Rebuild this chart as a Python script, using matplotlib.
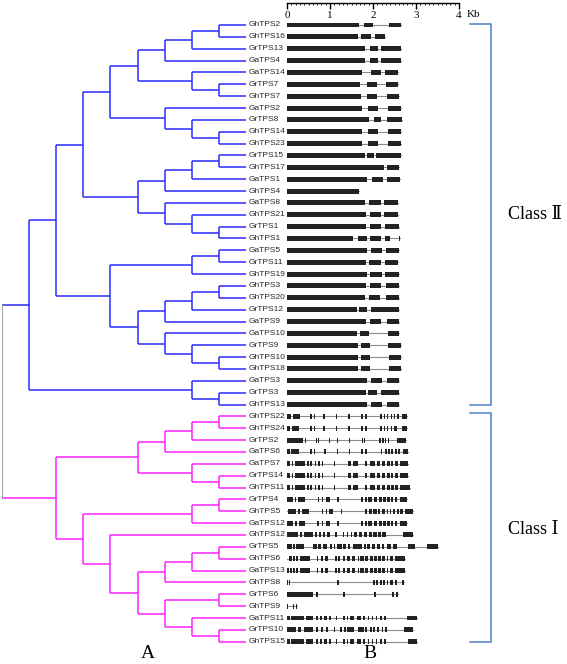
import matplotlib
matplotlib.use("Agg")
import matplotlib.pyplot as plt

# gene names, top to bottom
names = ["GhTPS2", "GhTPS16", "GrTPS13", "GaTPS4", "GaTPS14", "GrTPS7", "GhTPS7",
         "GaTPS2", "GrTPS8", "GhTPS14", "GhTPS23", "GrTPS15", "GhTPS17", "GaTPS1",
         "GhTPS4", "GaTPS8", "GhTPS21", "GrTPS1", "GhTPS1", "GaTPS5", "GrTPS11",
         "GhTPS19", "GhTPS3", "GhTPS20", "GrTPS12", "GaTPS9", "GaTPS10", "GrTPS9",
         "GhTPS10", "GhTPS18", "GaTPS3", "GrTPS3", "GhTPS13",
         "GhTPS22", "GhTPS24", "GrTPS2", "GaTPS6", "GaTPS7", "GrTPS14", "GhTPS11",
         "GrTPS4", "GhTPS5", "GaTPS12", "GhTPS12", "GrTPS5", "GhTPS6", "GaTPS13",
         "GhTPS8", "GrTPS6", "GhTPS9", "GaTPS11", "GrTPS10", "GhTPS15"]

# exons (start, end) in kb
exons = [
    [(0, 1.68), (1.78, 2.01), (2.38, 2.64)],
    [(0, 1.66), (1.72, 1.95), (2.05, 2.29)],
    [(0, 1.81), (1.93, 2.12), (2.19, 2.64)],
    [(0, 1.81), (1.94, 2.12), (2.19, 2.64)],
    [(0, 1.75), (1.95, 2.18), (2.29, 2.59)],
    [(0, 1.70), (1.85, 2.09), (2.30, 2.59)],
    [(0, 1.71), (1.85, 2.10), (2.32, 2.60)],
    [(0, 1.74), (1.89, 2.12), (2.36, 2.64)],
    [(0, 1.90), (2.02, 2.19), (2.33, 2.67)],
    [(0, 1.74), (1.89, 2.12), (2.35, 2.64)],
    [(0, 1.74), (1.89, 2.12), (2.35, 2.65)],
    [(0, 1.81), (1.87, 2.02), (2.07, 2.65)],
    [(0, 2.26), (2.33, 2.60)],
    [(0, 1.87), (1.97, 2.24), (2.32, 2.63)],
    [(0, 1.68)],
    [(0, 1.81), (1.91, 2.18), (2.26, 2.58)],
    [(0, 1.83), (1.93, 2.18), (2.26, 2.59)],
    [(0, 1.83), (1.93, 2.19), (2.28, 2.60)],
    [(0, 1.54), (1.64, 1.85), (1.93, 2.18), (2.28, 2.40), (2.60, 2.63)],
    [(0, 1.87), (1.95, 2.20), (2.30, 2.60)],
    [(0, 1.84), (1.91, 2.18), (2.28, 2.57)],
    [(0, 1.86), (1.94, 2.20), (2.29, 2.60)],
    [(0, 1.83), (1.93, 2.18), (2.30, 2.60)],
    [(0, 1.81), (1.91, 2.17), (2.30, 2.60)],
    [(0, 1.62), (1.67, 1.85), (1.95, 2.61)],
    [(0, 1.84), (1.94, 2.19), (2.32, 2.61)],
    [(0, 1.63), (1.70, 1.91), (2.34, 2.61)],
    [(0, 1.64), (1.71, 1.94), (2.36, 2.64)],
    [(0, 1.64), (1.71, 1.94), (2.37, 2.64)],
    [(0, 1.64), (1.71, 1.94), (2.37, 2.64)],
    [(0, 1.87), (1.95, 2.22), (2.32, 2.60)],
    [(0, 1.83), (1.88, 2.09), (2.18, 2.60)],
    [(0, 1.87), (1.95, 2.22), (2.32, 2.60)],
    # class I
    [(0, 0.09), (0.13, 0.30), (0.53, 0.57), (0.63, 0.66), (0.84, 0.88), (1.14, 1.17), (1.43, 1.47),
     (1.72, 1.76), (1.81, 1.85), (2.16, 2.20), (2.26, 2.29), (2.33, 2.36), (2.41, 2.44), (2.49, 2.52),
     (2.55, 2.60), (2.67, 2.78)],
    [(0, 0.08), (0.11, 0.29), (0.53, 0.57), (0.63, 0.66), (0.84, 0.88), (1.14, 1.17), (1.43, 1.47),
     (1.72, 1.76), (1.81, 1.85), (2.16, 2.20), (2.26, 2.29), (2.33, 2.36), (2.41, 2.44), (2.49, 2.55),
     (2.67, 2.78)],
    [(0, 0.38), (0.42, 0.45), (0.67, 0.70), (0.73, 0.75), (0.97, 1.00), (1.17, 1.19), (1.44, 1.47),
     (1.74, 1.76), (1.80, 1.82), (2.15, 2.18), (2.22, 2.25), (2.28, 2.31), (2.34, 2.38), (2.55, 2.77)],
    [(0, 0.07), (0.10, 0.29), (0.53, 0.57), (0.63, 0.66), (0.87, 0.91), (1.16, 1.18), (1.45, 1.47),
     (1.72, 1.76), (1.81, 1.85), (2.19, 2.22), (2.28, 2.32), (2.36, 2.40), (2.43, 2.47), (2.51, 2.55),
     (2.59, 2.63), (2.69, 2.82)],
    [(0, 0.07), (0.11, 0.15), (0.19, 0.42), (0.46, 0.50), (0.53, 0.59), (0.64, 0.67), (0.73, 0.77),
     (0.81, 0.84), (1.09, 1.12), (1.43, 1.48), (1.54, 1.64), (1.81, 1.85), (1.93, 2.05), (2.09, 2.16),
     (2.20, 2.28), (2.32, 2.40), (2.43, 2.47), (2.51, 2.57), (2.63, 2.82)],
    [(0, 0.07), (0.11, 0.15), (0.19, 0.42), (0.46, 0.50), (0.53, 0.59), (0.64, 0.67), (0.73, 0.77),
     (0.81, 0.84), (1.09, 1.12), (1.43, 1.48), (1.54, 1.64), (1.81, 1.85), (1.93, 2.05), (2.09, 2.16),
     (2.20, 2.28), (2.32, 2.40), (2.43, 2.47), (2.51, 2.57), (2.63, 2.82)],
    [(0, 0.07), (0.11, 0.15), (0.19, 0.42), (0.46, 0.50), (0.53, 0.59), (0.64, 0.67), (0.73, 0.77),
     (0.81, 0.84), (1.09, 1.12), (1.43, 1.48), (1.54, 1.64), (1.81, 1.85), (1.93, 2.05), (2.09, 2.16),
     (2.20, 2.28), (2.32, 2.40), (2.43, 2.49), (2.51, 2.57), (2.63, 2.85)],
    [(0, 0.15), (0.19, 0.22), (0.26, 0.42), (0.71, 0.75), (0.81, 0.84), (0.90, 1.00), (1.17, 1.21),
     (1.72, 1.76), (1.81, 1.85), (1.89, 1.97), (2.02, 2.09), (2.13, 2.20), (2.24, 2.30), (2.33, 2.40),
     (2.43, 2.47), (2.51, 2.55), (2.63, 2.78)],
    [(0, 0.01), (0.03, 0.22), (0.26, 0.30), (0.34, 0.52), (0.81, 0.84), (0.90, 0.94), (0.98, 1.08),
     (1.26, 1.29), (1.81, 1.87), (1.91, 1.97), (2.01, 2.09), (2.12, 2.16), (2.20, 2.28), (2.32, 2.36),
     (2.40, 2.43), (2.47, 2.52), (2.55, 2.60), (2.63, 2.69), (2.74, 2.94)],
    [(0, 0.15), (0.19, 0.24), (0.28, 0.42), (0.69, 0.75), (0.81, 0.84), (0.90, 1.00), (1.17, 1.21),
     (1.72, 1.76), (1.81, 1.85), (1.89, 1.97), (2.02, 2.09), (2.13, 2.20), (2.24, 2.30), (2.33, 2.40),
     (2.43, 2.47), (2.51, 2.55), (2.63, 2.78)],
    [(0, 0.02), (0.03, 0.26), (0.30, 0.34), (0.40, 0.61), (0.65, 0.69), (0.75, 0.78), (0.83, 0.88),
     (0.94, 1.00), (1.12, 1.16), (1.31, 1.33), (1.39, 1.43), (1.48, 1.52), (1.56, 1.62), (1.67, 1.74),
     (1.78, 1.87), (1.91, 1.97), (2.01, 2.09), (2.12, 2.18), (2.22, 2.30), (2.69, 2.92)],
    [(0, 0.11), (0.13, 0.19), (0.21, 0.40), (0.61, 0.69), (0.73, 0.78), (0.83, 0.92), (1.00, 1.04),
     (1.09, 1.12), (1.17, 1.28), (1.31, 1.37), (1.43, 1.47), (1.53, 1.74), (1.78, 1.84), (1.87, 1.93),
     (1.97, 2.05), (2.09, 2.16), (2.20, 2.26), (2.32, 2.43), (2.47, 2.55), (2.82, 2.98), (3.25, 3.50)],
    [(0, 0.01), (0.05, 0.11), (0.15, 0.19), (0.22, 0.26), (0.30, 0.53), (0.69, 0.73), (0.78, 0.83),
     (0.88, 0.96), (1.12, 1.16), (1.19, 1.23), (1.31, 1.35), (1.39, 1.47), (1.50, 1.58), (1.64, 1.67),
     (1.70, 1.78), (1.81, 1.89), (1.93, 1.99), (2.02, 2.09), (2.12, 2.19), (2.22, 2.28), (2.32, 2.36),
     (2.40, 2.47), (2.51, 2.74)],
    [(0, 0.04), (0.07, 0.11), (0.15, 0.19), (0.22, 0.26), (0.30, 0.53), (0.69, 0.73), (0.78, 0.83),
     (0.88, 0.96), (1.12, 1.16), (1.19, 1.23), (1.31, 1.35), (1.39, 1.47), (1.50, 1.58), (1.64, 1.67),
     (1.70, 1.78), (1.81, 1.89), (1.93, 1.99), (2.02, 2.09), (2.12, 2.19), (2.22, 2.28), (2.32, 2.36),
     (2.40, 2.47), (2.51, 2.74)],
    [(0, 0.02), (0.04, 0.06), (1.17, 1.22), (2.01, 2.05), (2.08, 2.11), (2.16, 2.20), (2.24, 2.28),
     (2.32, 2.36), (2.40, 2.47), (2.51, 2.55), (2.67, 2.72)],
    [(0, 0.60), (0.67, 0.71), (1.31, 1.36), (2.02, 2.07), (2.44, 2.49), (2.53, 2.57)],
    [(0, 0.02), (0.15, 0.17), (0.21, 0.23)],
    [(0, 0.07), (0.09, 0.40), (0.44, 0.61), (0.67, 0.71), (0.77, 0.81), (0.87, 0.92), (0.97, 1.02),
     (1.14, 1.17), (1.31, 1.35), (1.39, 1.43), (1.47, 1.56), (1.62, 1.71), (1.76, 1.81), (1.88, 1.91),
     (1.97, 2.01), (2.06, 2.10), (2.16, 2.20), (2.26, 2.30), (2.78, 3.02)],
    [(0.01, 0.22), (0.26, 0.33), (0.40, 0.61), (0.67, 0.73), (0.78, 0.84), (0.91, 0.96), (1.09, 1.12),
     (1.23, 1.27), (1.33, 1.37), (1.40, 1.56), (1.66, 1.78), (1.81, 1.87), (1.93, 1.97), (2.01, 2.05),
     (2.10, 2.15), (2.20, 2.24), (2.28, 2.33), (2.72, 2.94)],
    [(0, 0.07), (0.09, 0.40), (0.44, 0.61), (0.67, 0.71), (0.77, 0.81), (0.87, 0.92), (0.97, 1.02),
     (1.14, 1.17), (1.31, 1.35), (1.39, 1.43), (1.47, 1.56), (1.62, 1.71), (1.76, 1.81), (1.88, 1.91),
     (1.97, 2.01), (2.06, 2.10), (2.16, 2.20), (2.26, 2.30), (2.81, 3.03)],
]

# cladogram: (level, [children]); ints are leaf rows
A = (5, [(6, [(7, [(8, [0, 1]), 2]), 3]), (7, [4, (8, [5, 6])])])
B = (6, [7, (7, [8, (8, [9, 10])])])
C = (5, [(6, [(7, [(8, [11, 12]), 13]), 14]), (6, [15, (7, [16, (8, [17, 18])])])])
D = (4, [(7, [(8, [19, 20]), 21]),
         (5, [(6, [(7, [(8, [22, 23]), 24]), 25]), (6, [26, (7, [27, (8, [28, 29])])])])])
E = (7, [30, (8, [31, 32])])
class2_tree = (1, [(2, [(3, [(4, [A, B]), C]), D]), E])

I1 = (5, [(6, [(7, [(8, [33, 34]), 35]), 36]), (7, [37, (8, [38, 39])])])
I2 = (3, [(7, [(8, [40, 41]), 42]),
          (4, [43, (5, [(6, [(7, [(8, [44, 45]), 46]), 47]),
                        (6, [(8, [48, 49]), (7, [50, (8, [51, 52])])])])])])
class1_tree = (2, [I1, I2])

class_labels = ["Class \u2161", "Class \u2160"]
class_rows = [(0, 32), (33, 52)]
scale_ticks = [0, 1, 2, 3, 4]

blue = "#2b2bff"
magenta = "#ff22ff"
bracket = "#4a7fc0"
LEAF = 9

W, H = 567, 664
fig = plt.figure(figsize=(W / 100, H / 100), dpi=100)

# vertical mapping shared by both panels
top_px, row0_px, dy = 3, 25, 11.86
ylim = ((H - row0_px) / dy, (top_px - row0_px) / dy)
ax_h = (H - top_px) / H

tree_ax = fig.add_axes([2 / W, 0, 244 / W, ax_h])
tree_ax.set_xlim(0, LEAF)
tree_ax.set_ylim(*ylim)
tree_ax.axis("off")

gene_ax = fig.add_axes([287 / W, 0, 172 / W, ax_h])
gene_ax.set_xlim(0, 4)
gene_ax.set_ylim(*ylim)


def draw(node, color):
    if isinstance(node, int):
        return LEAF, node
    level, children = node
    ys = []
    for ch in children:
        cx, cy = draw(ch, color)
        tree_ax.plot([level, cx], [cy, cy], color=color, lw=1.1, solid_capstyle="butt")
        ys.append(cy)
    tree_ax.plot([level, level], [min(ys), max(ys)], color=color, lw=1.1, solid_capstyle="butt")
    return level, (min(ys) + max(ys)) / 2


x2, y2 = draw(class2_tree, blue)
x1, y1 = draw(class1_tree, magenta)
tree_ax.plot([0, x2], [y2, y2], color=blue, lw=1.1)
tree_ax.plot([0, x1], [y1, y1], color=magenta, lw=1.1)
tree_ax.plot([0, 0], [y2, y1], color="#888888", lw=1.1)

for i, name in enumerate(names):
    tree_ax.text(LEAF + 0.1, i, name, ha="left", va="center", fontsize=6.0,
                 family="Liberation Sans", color="#262626", clip_on=False)

# gene structures
for i, ex in enumerate(exons):
    gene_ax.plot([ex[0][0], ex[-1][1]], [i, i], color="#8c8c8c", lw=0.8, zorder=1)
    gene_ax.broken_barh([(s, e - s) for s, e in ex], (i - 0.21, 0.42),
                        facecolor="#222222", edgecolor="none", zorder=2)

# ruler
for side in ["left", "right", "bottom"]:
    gene_ax.spines[side].set_visible(False)
gene_ax.spines["top"].set_linewidth(1.0)
gene_ax.set_yticks([])
gene_ax.xaxis.tick_top()
gene_ax.set_xticks(scale_ticks)
gene_ax.set_xticklabels([str(t) for t in scale_ticks], family="Liberation Serif", fontsize=8)
gene_ax.set_xticks([t / 10 for t in range(41)], minor=True)
gene_ax.tick_params(axis="x", which="major", direction="in", length=4.5, width=1.0, pad=-12)
gene_ax.tick_params(axis="x", which="minor", direction="in", length=1.5, width=0.6)
gene_ax.text(4.19, 0.982, "Kb", transform=gene_ax.get_xaxis_transform(), fontsize=8,
             family="Liberation Serif", va="center", ha="left", clip_on=False)

# class brackets
bx0, bx1 = 4.26, 4.74
for k, (r0, r1) in enumerate(class_rows):
    start = r0 - 0.1 if k == 0 else r0 - 0.3
    gene_ax.plot([bx0, bx1, bx1, bx0], [start, start, r1, r1], color=bracket, lw=1.1, clip_on=False)
    gene_ax.text(5.14, (r0 + r1) / 2, class_labels[k], fontsize=13, ha="left", va="center",
                 family=["Liberation Serif", "DejaVu Serif", "Noto Sans CJK SC"], clip_on=False)

tree_ax.text(5.39, 53.0, "A", fontsize=14, family="Liberation Serif", ha="center", va="center",
             clip_on=False)
gene_ax.text(1.93, 53.0, "B", fontsize=14, family="Liberation Serif", ha="center", va="center",
             clip_on=False)

fig.savefig("out.png", dpi=100)
